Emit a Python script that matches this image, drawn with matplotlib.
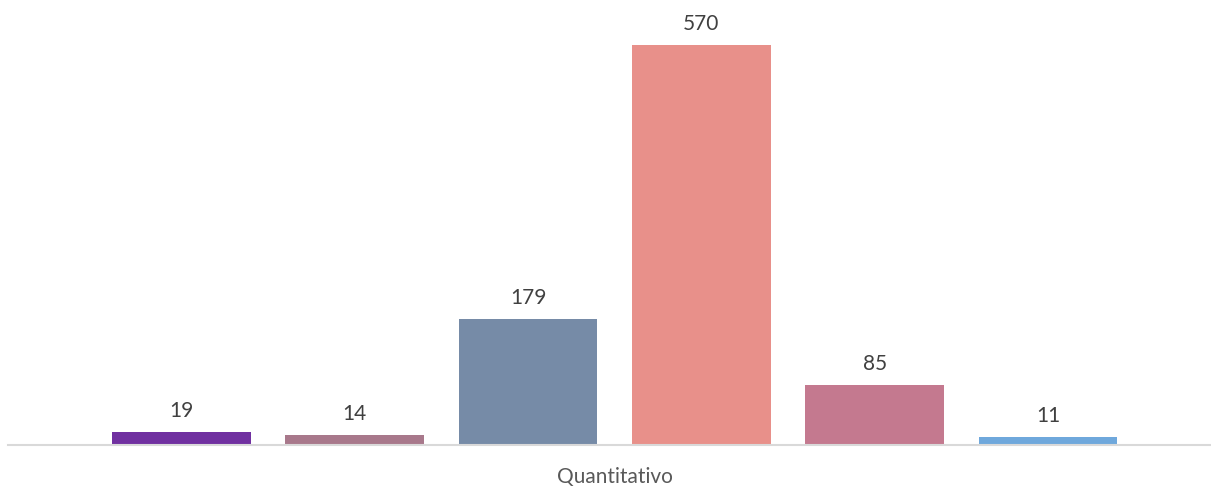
import numpy as np
import matplotlib
matplotlib.use('Agg')
import matplotlib.pyplot as plt

# Dados do gráfico
categoria = 'Quantitativo'
valores = [19, 14, 179, 570, 85, 11]
cores = ['#7030A0', '#A8788B', '#768BA7', '#E8908A', '#C4798F', '#6FA8DC']

plt.rcParams['font.family'] = ['Lato', 'DejaVu Sans']

fig = plt.figure(figsize=(12.11, 4.88), dpi=100)
ax = fig.add_axes([8 / 1211, 43 / 488, 1 - 8 / 1211, 1 - 43 / 488])

x = np.arange(len(valores))
barras = ax.bar(x, valores, width=0.8, color=cores)

for b, v in zip(barras, valores):
    ax.annotate(str(v), (b.get_x() + b.get_width() / 2, v),
                xytext=(0, 8), textcoords='offset points',
                ha='center', va='bottom', fontsize=15, color='#404040')

ax.set_xlim(-1.0, 5.94)
ax.set_ylim(0, 634)
ax.set_yticks([])
ax.set_xticks([x.mean()])
ax.set_xticklabels([categoria], fontsize=15, color='#595959')
ax.tick_params(axis='x', length=0, pad=16)

for s in ['top', 'right', 'left']:
    ax.spines[s].set_visible(False)
ax.spines['bottom'].set_color('#D9D9D9')
ax.spines['bottom'].set_linewidth(1.5)

fig.savefig('out.png', dpi=100)
